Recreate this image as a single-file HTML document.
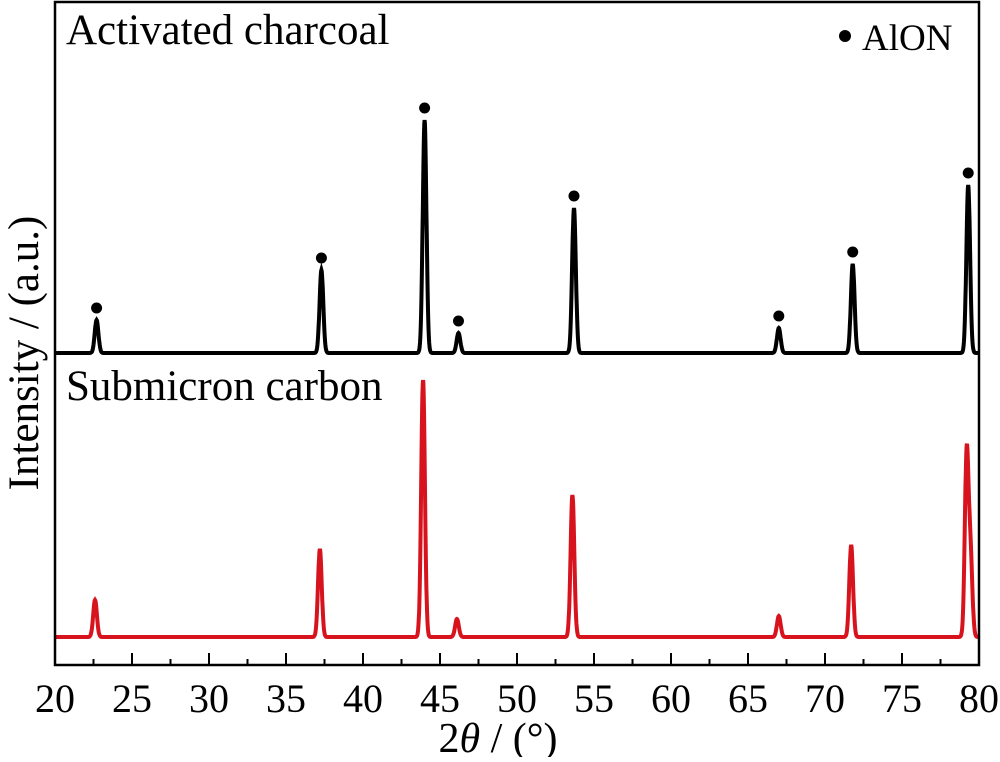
<!DOCTYPE html>
<html><head><meta charset="utf-8"><style>
body{margin:0;background:#fff}
svg text{font-family:"Liberation Serif",serif;fill:#000}
</style></head><body>
<svg width="1000" height="757" viewBox="0 0 1000 757">
<g id="plot"></g>
<rect x="55" y="2" width="924" height="663" fill="none" stroke="#000" stroke-width="2.5"/>
<g id="ticks"></g>
<text x="66" y="44" font-size="43">Activated charcoal</text>
<text x="66" y="400" font-size="43">Submicron carbon</text>
<circle cx="845" cy="36" r="6" fill="#000"/>
<text x="862" y="50" font-size="37">AlON</text>
<text x="498" y="752" font-size="42" text-anchor="middle">2<tspan font-style="italic">θ</tspan> / (°)</text>
<text transform="translate(38,353) rotate(-90)" font-size="43" text-anchor="middle">Intensity / (a.u.)</text>
</svg>
<script>
const xTicks=[20,25,30,35,40,45,50,55,60,65,70,75,80];
const blackPos=[22.7,37.3,44.0,46.2,53.7,67.0,71.8,79.3];
const blackH=[33,83,233,20,145,25,89,168];
const redPos=[22.6,37.2,43.9,46.1,53.6,67.0,71.7,79.2,79.45];
const redH=[37,88,257,18,142,21,92,183,80];
const markerPos=[22.7,37.3,44.0,46.2,53.7,67.0,71.8,79.3];
const blackBase=353, redBase=637;
const NS="http://www.w3.org/2000/svg";
const X=v=>55+(v-20)*924/60;
const Yb=h=>blackBase-h, Yr=h=>redBase-h;
function prof(pos,H,x){let s=0;for(let i=0;i<pos.length;i++){const d=(x-pos[i])/0.12;s+=H[i]*Math.exp(-d*d/2);}return s;}
const plot=document.getElementById('plot');
function series(pos,H,Y,color,name){
  let d='';for(let x=20;x<=80.0001;x+=0.02){d+=(d?'L':'M')+X(x).toFixed(1)+','+Y(prof(pos,H,x)).toFixed(1);}
  const p=document.createElementNS(NS,'path');p.setAttribute('d',d);p.setAttribute('fill','none');
  p.setAttribute('stroke',color);p.setAttribute('stroke-width','4');
  
  
  plot.appendChild(p);
}
series(blackPos,blackH,Yb,'#000','series-activated-charcoal');
series(redPos,redH,Yr,'#d7141e','series-submicron-carbon');
markerPos.forEach(m=>{
  const c=document.createElementNS(NS,'circle');
  c.setAttribute('cx',X(m));c.setAttribute('cy',Yb(prof(blackPos,blackH,m))-12);c.setAttribute('r',5.5);
  
  
  plot.appendChild(c);
});
const tg=document.getElementById('ticks');
for(let v=20;v<=80;v+=2.5){
  const major=v%5===0;const l=document.createElementNS(NS,'line');
  l.setAttribute('x1',X(v));l.setAttribute('x2',X(v));l.setAttribute('y1',665);l.setAttribute('y2',major?653:659);
  l.setAttribute('stroke','#000');l.setAttribute('stroke-width','2');
  
  
  tg.appendChild(l);
}
xTicks.forEach(v=>{
  const t=document.createElementNS(NS,'text');t.setAttribute('x',X(v));t.setAttribute('y',712);
  t.setAttribute('font-size','40');t.setAttribute('text-anchor','middle');t.textContent=v;
  
  
  tg.appendChild(t);
});
</script>
</body></html>
